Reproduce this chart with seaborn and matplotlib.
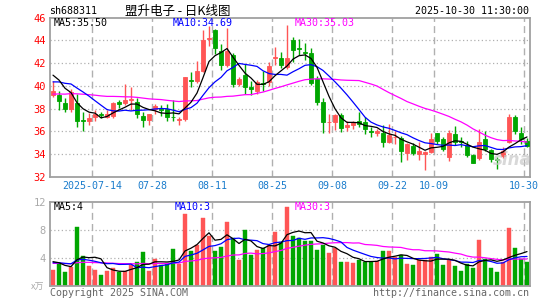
import numpy as np
import pandas as pd
import matplotlib
matplotlib.use("Agg")
import matplotlib.pyplot as plt
import seaborn as sns

# ---------------- data ----------------
# trading days shown (07-03 .. 10-30, National Day holiday 10-01..10-08 closed)
all_days = pd.bdate_range("2025-07-03", "2025-10-30")
holidays = pd.to_datetime(["2025-10-01", "2025-10-02", "2025-10-03",
                           "2025-10-06", "2025-10-07", "2025-10-08"])
dates = [d for d in all_days if d not in holidays]

opens = [39.2, 39.2, 38.5, 38.0, 38.5, 37.05, 36.9, 37.3, 37.55, 37.3,
         37.4, 38.55, 38.5, 38.8, 38.55, 37.4, 37.05, 37.95, 38.0, 38.0,
         37.3, 37.0, 37.1, 40.55, 40.45, 41.3, 44.1, 44.9, 43.05, 41.85,
         42.7, 40.15, 41.0, 39.9, 39.55, 40.25, 40.35, 42.45, 42.45, 41.7,
         44.05, 43.35, 43.0, 42.9, 40.6, 38.55, 36.8, 36.85, 37.45, 36.4,
         36.55, 36.9, 36.8, 36.05, 35.9, 35.9, 35.1, 35.5, 35.4, 34.1,
         34.7, 34.05, 34.0, 34.2, 35.85, 35.35, 33.75, 35.75, 35.15, 34.8,
         33.95, 33.65, 35.35, 34.35, 33.6, 33.85, 35.05, 37.25, 35.85, 35.2]
highs = [40.4, 39.55, 38.9, 39.7, 39.3, 37.7, 37.65, 37.9, 37.75, 37.9,
         38.6, 38.8, 40.2, 39.9, 38.9, 37.7, 37.5, 38.45, 38.35, 38.45,
         38.75, 37.3, 40.8, 41.2, 42.2, 44.9, 45.3, 45.0, 43.7, 45.1,
         42.9, 40.8, 41.9, 40.4, 40.5, 41.3, 42.1, 43.4, 43.0, 45.35,
         44.3, 44.1, 43.8, 43.3, 40.9, 38.9, 37.5, 37.5, 37.6, 36.9,
         36.9, 37.7, 37.3, 36.4, 36.2, 36.55, 36.7, 36.0, 35.6, 35.0,
         35.0, 35.1, 34.3, 35.9, 35.9, 35.5, 36.1, 36.45, 35.5, 35.2,
         34.0, 36.25, 36.0, 34.5, 33.8, 34.6, 37.5, 37.45, 36.4, 35.4]
lows = [39.0, 37.85, 37.7, 37.7, 36.4, 36.0, 36.55, 36.95, 37.2, 37.2,
        37.2, 38.1, 38.3, 37.9, 37.2, 36.4, 36.55, 37.5, 37.4, 36.9,
        36.95, 36.55, 36.9, 39.9, 40.3, 41.2, 43.5, 42.85, 41.4, 41.7,
        39.9, 40.0, 39.3, 39.2, 39.3, 39.6, 40.0, 41.8, 41.6, 41.5,
        42.1, 42.7, 42.3, 40.1, 38.3, 35.85, 35.9, 36.1, 35.95, 36.05,
        36.2, 36.4, 35.8, 35.5, 35.6, 34.65, 35.0, 34.9, 33.3, 33.5,
        33.9, 33.5, 32.6, 34.1, 34.9, 34.3, 33.4, 34.8, 34.65, 33.8,
        33.2, 33.5, 34.3, 33.3, 32.7, 33.7, 35.0, 35.75, 34.9, 34.6]
closes = [39.6, 38.65, 38.0, 39.5, 36.9, 36.95, 37.15, 37.55, 37.45, 37.5,
          38.5, 38.45, 38.75, 38.85, 37.5, 37.05, 37.5, 38.2, 37.9, 37.3,
          37.25, 37.1, 40.75, 40.45, 41.35, 44.0, 44.2, 43.3, 41.85, 43.1,
          40.2, 40.6, 39.9, 39.7, 40.35, 40.15, 41.75, 42.55, 41.85, 42.45,
          43.2, 43.25, 42.9, 40.3, 38.55, 36.85, 36.85, 37.45, 36.3, 36.55,
          36.85, 36.7, 36.2, 35.95, 36.05, 35.1, 35.65, 35.55, 34.25, 34.9,
          34.1, 34.3, 34.2, 35.3, 35.15, 34.5, 35.85, 35.1, 35.05, 33.9,
          33.25, 35.1, 34.5, 33.6, 33.5, 34.3, 37.25, 36.0, 35.3, 34.75]
volumes = [2.29, 3.33, 2.0, 2.71, 8.43, 4.24, 2.86, 2.29, 1.57, 2.14,
           2.57, 2.0, 2.14, 3.0, 3.43, 4.86, 2.14, 3.86, 3.0, 3.29,
           5.29, 3.14, 10.29, 5.0, 5.86, 9.71, 7.14, 5.0, 5.6, 9.14,
           6.9, 3.71, 8.0, 4.43, 5.14, 5.48, 5.86, 7.71, 6.3, 11.3,
           7.15, 6.8, 6.5, 6.4, 5.15, 5.88, 4.76, 5.5, 3.45, 3.48,
           3.33, 3.71, 3.48, 3.48, 3.62, 5.0, 5.0, 4.19, 4.43, 3.19,
           3.0, 3.71, 3.71, 4.19, 4.57, 3.0, 3.71, 2.86, 2.19, 3.1,
           2.52, 6.57, 3.86, 2.62, 2.05, 3.48, 8.33, 5.48, 3.81, 3.48]
# sessions before the window (only feed the moving averages)
prior_closes = [38.2, 38.5, 38.0, 37.6, 37.9, 38.4, 38.9, 39.3, 38.8, 38.5,
                38.9, 39.4, 39.1, 38.7, 39.0, 39.5, 39.2, 38.8, 39.3, 38.9,
                38.7, 39.2, 40.1, 40.5, 40.35, 40.8, 41.6, 41.4, 41.35]
prior_volumes = [3.6, 2.8, 3.1, 4.2, 2.6, 3.0, 3.5, 2.4, 2.9, 3.8,
                 3.3, 2.7, 3.1, 4.0, 2.9, 3.4, 3.0, 2.8, 3.6, 3.2,
                 3.4, 2.9, 3.3, 3.0, 3.3, 4.1, 3.9, 3.6, 3.5]

tick_dates = ["2025-07-14", "2025-07-28", "2025-08-11", "2025-08-25",
              "2025-09-08", "2025-09-22", "2025-10-09", "2025-10-30"]
tick_labels = ["2025-07-14", "07-28", "08-11", "08-25", "09-08", "09-22", "10-09", "10-30"]
price_ticks = [32, 34, 36, 38, 40, 42, 44, 46]
vol_ticks = [4, 8, 12]

title_code = "sh688311"
title_name = "盟升电子 - 日K线图"
timestamp = "2025-10-30 11:30:00"
price_legend = ["MA5:35.50", "MA10:34.69", "MA30:35.03"]
vol_legend = ["MA5:4", "MA10:3", "MA30:3"]

# ---------------- style ----------------
sns.set_style("white")
plt.rcParams["font.family"] = ["DejaVu Sans Mono", "Noto Sans CJK SC"]

RED = "#ff5555"
GREEN = "#00a600"
GRID = "#b0b0b0"
FRAME = "#a0a0a0"
MA_COLORS = ["#000000", "#0000ff", "#ff00ff"]

n = len(closes)
x = np.arange(n)
o = np.array(opens); h = np.array(highs); l = np.array(lows); c = np.array(closes)
v = np.array(volumes)
up = c >= o
cols = np.where(up, RED, GREEN)

full_c = pd.Series(prior_closes + closes)
full_v = pd.Series(prior_volumes + volumes)
k = len(prior_closes)
ma_p = [full_c.rolling(w).mean().values[k:] for w in (5, 10, 30)]
ma_v = [full_v.rolling(w).mean().values[k:] for w in (5, 10, 30)]

W, H = 545, 300
fig = plt.figure(figsize=(W / 100, H / 100), dpi=100)
fig.patch.set_facecolor("white")

def fx(px):
    return px / W

def fy(py):
    return 1 - py / H

ax = fig.add_axes([fx(50), fy(177), fx(480), (177 - 17.7) / H])
axv = fig.add_axes([fx(50), fy(286), fx(480), 84 / H])

tick_idx = [dates.index(pd.Timestamp(d)) for d in tick_dates]

for a in (ax, axv):
    a.set_xlim(-0.5, n - 0.5)
    for ti in tick_idx:
        a.axvline(ti - 0.5, color=GRID, lw=1.0, ls=(0, (5, 3)), zorder=0)
    for s in a.spines.values():
        s.set_color(FRAME)
        s.set_linewidth(1.3)

# ----- price panel -----
ax.set_ylim(32, 46)
for yv in price_ticks[1:-1]:
    ax.axhline(yv, color=GRID, lw=0.9, ls=(0, (1, 2)), zorder=0)

ax.vlines(x, l, h, colors=cols, linewidth=1.0, zorder=2)
body_lo = np.minimum(o, c)
body_h = np.maximum(np.abs(c - o), 0.02)
ax.bar(x, body_h, bottom=body_lo, width=0.72, color=cols, edgecolor=cols,
       linewidth=0.6, zorder=3)

ma_df = pd.DataFrame({"x": x, "MA5": ma_p[0], "MA10": ma_p[1], "MA30": ma_p[2]})
for name, col in zip(["MA30", "MA10", "MA5"], MA_COLORS[::-1]):
    sns.lineplot(data=ma_df, x="x", y=name, ax=ax, color=col, linewidth=0.9,
                 zorder=4, legend=False)

ax.set_yticks(price_ticks)
ax.set_yticklabels([str(t) for t in price_ticks], color="#ff0000", fontsize=7.5)
ax.set_xticks([ti - 0.5 for ti in tick_idx])
ax.set_xticklabels(tick_labels, color="#1a7ccc", fontsize=7.2)
ax.tick_params(axis="both", length=0, pad=3)
ax.set_xlabel(""); ax.set_ylabel("")

# ----- volume panel -----
axv.set_ylim(0, 12)
for yv in (4, 8):
    axv.axhline(yv, color=GRID, lw=0.9, ls=(0, (1, 2)), zorder=0)
axv.bar(x, v, width=0.8, color=cols, edgecolor=cols, linewidth=0.3, zorder=2)
vma_df = pd.DataFrame({"x": x, "MA5": ma_v[0], "MA10": ma_v[1], "MA30": ma_v[2]})
for name, col in zip(["MA30", "MA10", "MA5"], MA_COLORS[::-1]):
    sns.lineplot(data=vma_df, x="x", y=name, ax=axv, color=col, linewidth=0.9,
                 zorder=4, legend=False)
axv.set_xlim(-0.5, n - 0.5)
axv.set_yticks(vol_ticks)
axv.set_yticklabels([str(t) for t in vol_ticks], color="#aaaaaa", fontsize=7.5)
axv.set_xticks([])
axv.tick_params(axis="both", length=0, pad=3)
axv.set_xlabel(""); axv.set_ylabel("")

# ----- texts -----
mono = ["DejaVu Sans Mono", "Noto Sans CJK SC"]
fig.text(fx(49), fy(11), title_code, fontsize=7.2, color="#000000", va="center", ha="left", family=mono)
fig.text(fx(178), fy(11), title_name, fontsize=9, color="#000000", va="center", ha="center",
         family=["Noto Sans CJK SC", "DejaVu Sans"])
fig.text(fx(529), fy(11.5), timestamp, fontsize=7.2, color="#000000", va="center", ha="right", family=mono)

for txt, px, col in zip(price_legend, [54, 173, 295], MA_COLORS):
    fig.text(fx(px), fy(23.5), txt, fontsize=7.2, color=col, va="center", ha="left", family=mono)
for txt, px, col in zip(vol_legend, [54, 175, 295], MA_COLORS):
    fig.text(fx(px), fy(206.5), txt, fontsize=7.2, color=col, va="center", ha="left", family=mono)

fig.text(fx(44), fy(287), "x万", fontsize=6.5, color="#aaaaaa", va="center", ha="right",
         family=["Noto Sans CJK SC", "DejaVu Sans"])
fig.text(fx(50), fy(293), "Copyright 2025 SINA.COM", fontsize=7.2, color="#666666",
         va="center", ha="left", family=mono)
fig.text(fx(529), fy(293), "http://finance.sina.com.cn", fontsize=7.2, color="#666666",
         va="center", ha="right", family=mono)
fig.text(fx(512), fy(160), "sina", fontsize=12, color="#c8c8c8", alpha=0.7, fontweight="bold",
         style="italic", va="center", ha="center", family=["DejaVu Sans"])

fig.savefig("out.png", dpi=100, facecolor="white")
